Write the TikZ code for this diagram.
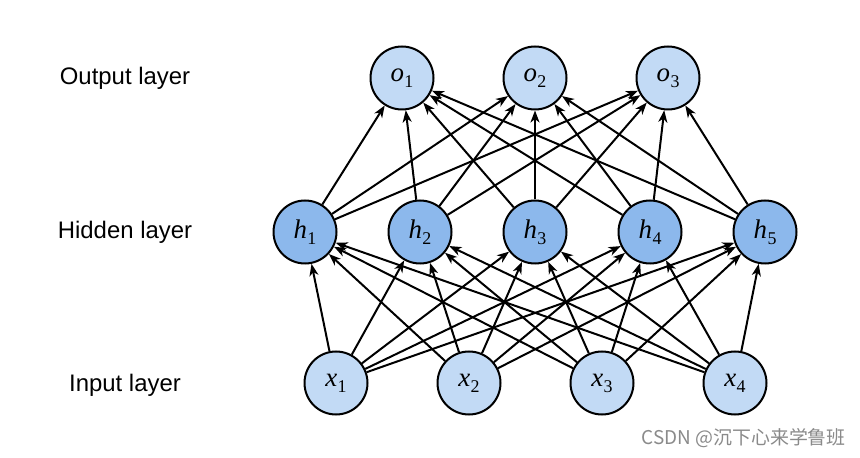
\documentclass[tikz,border=0pt]{standalone}
\usepackage{fontspec}
\setmainfont{Liberation Sans}
\newfontfamily\tnr{Liberation Serif}
\newfontfamily\cjk{Noto Sans CJK SC}
\usetikzlibrary{arrows.meta}
\definecolor{lightnode}{HTML}{C2DAF5}
\definecolor{darknode}{HTML}{8CB8EC}
\definecolor{wmgray}{HTML}{8A8A8A}
\newcommand\nlab[2]{{\tnr\fontsize{27}{27}\selectfont\itshape #1}\kern0.5bp\raisebox{-6bp}{\tnr\fontsize{18}{18}\selectfont #2}}
\begin{document}
\begin{tikzpicture}[x=1bp,y=-1bp,
  neuron/.style={circle,draw=black,line width=2bp,minimum size=63bp,inner sep=0pt},
  lightn/.style={neuron,fill=lightnode},
  darkn/.style={neuron,fill=darknode},
  layerlabel/.style={font=\fontsize{24}{24}\selectfont,anchor=center},
  conn/.style={line width=2bp,-{Stealth[length=12bp,width=9bp,inset=3.5bp]}}]
\useasboundingbox (0,0) rectangle (860,458);
\fill[white] (0,0) rectangle (860,458);
% layer labels
\node[layerlabel] (lo) at (125,78) {Output layer};
\node[layerlabel] (lh) at (125,232) {Hidden layer};
\node[layerlabel] (li) at (125,385) {Input layer};
% output
\node[lightn] (o1) at (402,78) {\nlab{o}{1}};
\node[lightn] (o2) at (535,78) {\nlab{o}{2}};
\node[lightn] (o3) at (668,78) {\nlab{o}{3}};
% hidden
\node[darkn] (h1) at (305,232) {\nlab{h}{1}};
\node[darkn] (h2) at (420,232) {\nlab{h}{2}};
\node[darkn] (h3) at (535,232) {\nlab{h}{3}};
\node[darkn] (h4) at (650,232) {\nlab{h}{4}};
\node[darkn] (h5) at (765,232) {\nlab{h}{5}};
% input
\node[lightn] (x1) at (336,383) {\nlab{x}{1}};
\node[lightn] (x2) at (469,383) {\nlab{x}{2}};
\node[lightn] (x3) at (602,383) {\nlab{x}{3}};
\node[lightn] (x4) at (735,383) {\nlab{x}{4}};
% connections
\foreach \i in {1,...,4}
  \foreach \j in {1,...,5}
    \draw[conn] (x\i) -- (h\j);
\foreach \j in {1,...,5}
  \foreach \k in {1,2,3}
    \draw[conn] (h\j) -- (o\k);
% watermark
\node[anchor=east,text=wmgray,font=\cjk\fontsize{19}{19}\selectfont,inner sep=0pt] (wm) at (846,438) {CSDN @沉下心来学鲁班};
\end{tikzpicture}
\end{document}
